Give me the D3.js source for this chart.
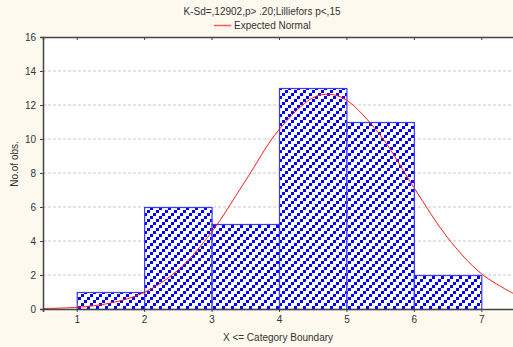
<!DOCTYPE html>
<html>
  <head>
    <meta charset="utf-8" />
    <script src="https://d3js.org/d3.v7.min.js"></script>
    <style>
      body { margin: 0; background: #fdf9ee; }
      text { font-family: "Liberation Sans", Arial, sans-serif; fill: #333; }
    </style>
  </head>
  <body>
    <svg id="chart" width="513" height="347"></svg>
    <script>
      // Category boundaries and counts
      const binStarts = [1, 2, 3, 4, 5, 6];
      const binEnds = [2, 3, 4, 5, 6, 7];
      const counts = [1, 6, 5, 13, 11, 2];

      // Expected normal curve
      const curveX = [0.5, 1, 1.5, 2, 2.5, 3, 3.5, 4, 4.5, 4.75, 5, 5.5, 6, 6.5, 7, 7.5];
      const curveY = [0.03, 0.1, 0.35, 0.97, 2.28, 4.52, 7.53, 10.55, 12.42, 12.63, 12.29, 10.23, 7.15, 4.2, 2.08, 0.86];

      const xTicks = [1, 2, 3, 4, 5, 6, 7];
      const yTicks = [0, 2, 4, 6, 8, 10, 12, 14, 16];

      const title = "K-Sd=,12902,p> .20;Lilliefors p<,15";
      const legendLabel = "Expected Normal";
      const xLabel = "X <= Category Boundary";
      const yLabel = "No.of obs.";

      const margin = { top: 37, right: -2, bottom: 38, left: 43 };
      const width = 513, height = 347;
      const svg = d3.select("#chart");

      const x = d3.scaleLinear().domain([0.5, 7.5]).range([margin.left, width - margin.right]);
      const y = d3.scaleLinear().domain([0, 16]).range([height - margin.bottom, margin.top]);

      // hatch pattern: diagonal rows of square dots
      const pat = svg.append("defs").append("pattern")
        .attr("id", "hatch")
        .attr("patternUnits", "userSpaceOnUse")
        .attr("width", 9).attr("height", 9);
      pat.append("rect").attr("width", 9).attr("height", 9).attr("fill", "#fff");
      [[0, 6], [3, 3], [6, 0]].forEach(([px, py]) => {
        pat.append("rect").attr("x", px).attr("y", py).attr("width", 3).attr("height", 3).attr("fill", "#0000ff");
      });

      // plot area
      svg.append("rect")
        .attr("x", margin.left).attr("y", margin.top)
        .attr("width", width - margin.left).attr("height", y(0) - margin.top)
        .attr("fill", "#fff");

      // grid
      svg.append("g").selectAll("line")
        .data(yTicks.filter((d) => d > 0 && d < 16))
        .join("line")
        .attr("x1", margin.left).attr("x2", width)
        .attr("y1", (d) => y(d)).attr("y2", (d) => y(d))
        .attr("stroke", "#c8c8c8")
        .attr("stroke-dasharray", "3,2");

      // bars
      svg.append("g").selectAll("rect")
        .data(counts)
        .join("rect")
        .attr("x", (d, i) => x(binStarts[i]) + 0.5)
        .attr("y", (d) => y(d) + 0.5)
        .attr("width", (d, i) => x(binEnds[i]) - x(binStarts[i]))
        .attr("height", (d) => y(0) - y(d))
        .attr("fill", "url(#hatch)")
        .attr("stroke", "#3a3aff")
        .attr("stroke-width", 1.2);

      // normal curve
      const line = d3.line()
        .x((d, i) => x(curveX[i]))
        .y((d) => y(d))
        .curve(d3.curveCatmullRom);
      svg.append("path")
        .datum(curveY)
        .attr("fill", "none")
        .attr("stroke", "#ff1a1a")
        .attr("stroke-width", 1)
        .attr("d", line);

      // axes
      const xAxis = svg.append("g")
        .attr("transform", `translate(0,${y(0)})`)
        .call(d3.axisBottom(x).tickValues(xTicks).tickSize(3).tickPadding(4).tickFormat(d3.format("d")));
      xAxis.select(".domain").attr("stroke", "#444").attr("stroke-width", 1.5);
      xAxis.selectAll(".tick line").attr("stroke", "#444");
      xAxis.selectAll("text").attr("font-size", 10).style("fill", "#333");

      const topAxis = svg.append("g")
        .attr("transform", `translate(0,${margin.top})`)
        .call(d3.axisBottom(x).tickValues(xTicks).tickSize(3).tickFormat(""));
      topAxis.select(".domain").attr("stroke", "#444").attr("stroke-width", 1.5);
      topAxis.selectAll(".tick line").attr("stroke", "#444");

      const yAxis = svg.append("g")
        .attr("transform", `translate(${margin.left},0)`)
        .call(d3.axisLeft(y).tickValues(yTicks).tickSize(3).tickPadding(4));
      yAxis.select(".domain").attr("stroke", "#444").attr("stroke-width", 1.5);
      yAxis.selectAll(".tick line").attr("stroke", "#444");
      yAxis.selectAll("text").attr("font-size", 10).style("fill", "#333");

      // title and legend
      svg.append("text")
        .attr("x", 262).attr("y", 15)
        .attr("text-anchor", "middle")
        .attr("font-size", 10)
        .text(title);
      svg.append("line")
        .attr("x1", 214).attr("x2", 231)
        .attr("y1", 25.5).attr("y2", 25.5)
        .attr("stroke", "#ff5a5a").attr("stroke-width", 1.5);
      svg.append("text")
        .attr("x", 234).attr("y", 29)
        .attr("font-size", 10)
        .text(legendLabel);

      // axis labels
      svg.append("text")
        .attr("x", 278).attr("y", 341)
        .attr("text-anchor", "middle")
        .attr("font-size", 10)
        .text(xLabel);
      svg.append("text")
        .attr("transform", "translate(18,164) rotate(-90)")
        .attr("text-anchor", "middle")
        .attr("font-size", 10)
        .text(yLabel);
    </script>
  </body>
</html>
